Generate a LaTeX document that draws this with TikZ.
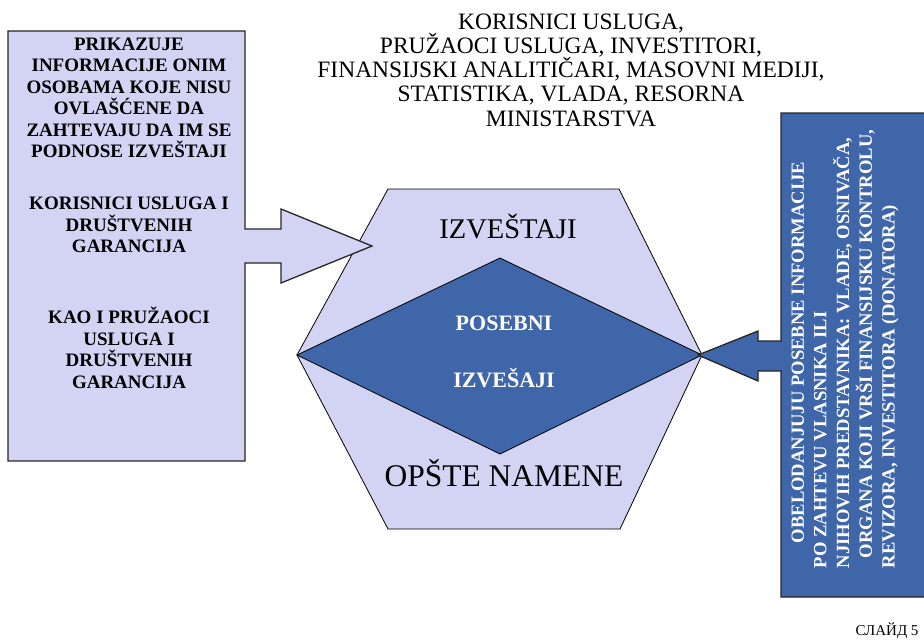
\documentclass[tikz,border=0pt]{standalone}
\usepackage{fontspec}
\setmainfont{Liberation Serif}
\definecolor{lavenderFill}{RGB}{211,211,243}
\definecolor{slideBlue}{RGB}{63,102,168}
\usepackage{tikz}

\begin{document}
\begin{tikzpicture}[x=1pt,y=-1pt,
    lightshape/.style={fill=lavenderFill,draw=black,line width=0.8pt,line join=miter},
    darkshape/.style={fill=slideBlue,draw=black,line width=0.8pt,line join=miter},
    calloutline/.style={draw=black!85,line width=1.3pt},
    boxtext/.style={font=\bfseries\fontsize{19}{21.5}\selectfont,align=center,inner sep=0pt},
    sidetext/.style={font=\bfseries\fontsize{18.6}{22.7}\selectfont,text=white,align=left,inner sep=0pt,rotate=90}]
  \useasboundingbox (0,0) rectangle (924,641);
  \clip (0,0) rectangle (924,641);
  % Hexagon: general purpose reports
  \draw[lightshape] (388,189) -- (619,189) -- (702,355) -- (620,529)
    -- (388,529) -- (297,355) -- cycle;
  % Diamond: special reports
  \draw[darkshape] (500,258) -- (702,355) -- (500,454) -- (297,355) -- cycle;
  % Left callout box with its arrow
  \draw[lightshape,calloutline] (8,31) -- (245,31) -- (245,229) -- (281,229)
    -- (281,209) -- (372,246) -- (281,283) -- (281,263) -- (245,263)
    -- (245,461) -- (8,461) -- cycle;
  % Right callout box with its arrow
  \draw[darkshape,calloutline] (781,113) -- (935,113) -- (935,597) -- (781,597)
    -- (781,371) -- (758,371) -- (758,381) -- (698,355) -- (758,331)
    -- (758,341) -- (781,341) -- cycle;
  % Users above
  \node[font=\fontsize{23.5}{24.2}\selectfont,align=center,inner sep=0pt] (users) at (571,70)
    {KORISNICI USLUGA,\\PRUŽAOCI USLUGA, INVESTITORI,\\FINANSIJSKI ANALITIČARI, MASOVNI MEDIJI,\\STATISTIKA, VLADA, RESORNA\\MINISTARSTVA};
  % Left box texts
  \node[boxtext] (unauth) at (129,98)
    {PRIKAZUJE\\INFORMACIJE ONIM\\OSOBAMA KOJE NISU\\OVLAŠĆENE DA\\ZAHTEVAJU DA IM SE\\PODNOSE IZVEŠTAJI};
  \node[boxtext] (clients) at (129,225) {KORISNICI USLUGA I\\DRUŠTVENIH\\GARANCIJA};
  \node[boxtext] (providers) at (129,348) {KAO I PRUŽAOCI\\USLUGA I\\DRUŠTVENIH\\GARANCIJA};
  % Hexagon and diamond labels
  \node[font=\fontsize{28.5}{30}\selectfont,anchor=base,inner sep=0pt] (reports) at (508,238) {IZVEŠTAJI};
  \node[font=\fontsize{31.5}{33}\selectfont,anchor=base,inner sep=0pt] (general) at (504,486) {OPŠTE NAMENE};
  \node[font=\bfseries\fontsize{22}{24}\selectfont,text=white,anchor=base,inner sep=0pt] (special) at (504,330) {POSEBNI};
  \node[font=\bfseries\fontsize{22}{24}\selectfont,text=white,anchor=base,inner sep=0pt] (specialb) at (504,387) {IZVEŠAJI};
  % Right box text
  \node[sidetext] (owners) at (845,349)
    {\hspace*{25pt}OBELODANJUJU POSEBNE INFORMACIJE\\PO ZAHTEVU VLASNIKA ILI\\NJIHOVIH PREDSTAVNIKA: VLADE, OSNIVAČA,\\\hspace*{10pt}ORGANA KOJI VRŠI FINANSIJSKU KONTROLU,\\REVIZORA, INVESTITORA (DONATORA)};
  % Slide number
  \node[font=\fontsize{15}{16}\selectfont,anchor=base,inner sep=0pt] (slide) at (887,635) {СЛАЙД 5};
\end{tikzpicture}
\end{document}
